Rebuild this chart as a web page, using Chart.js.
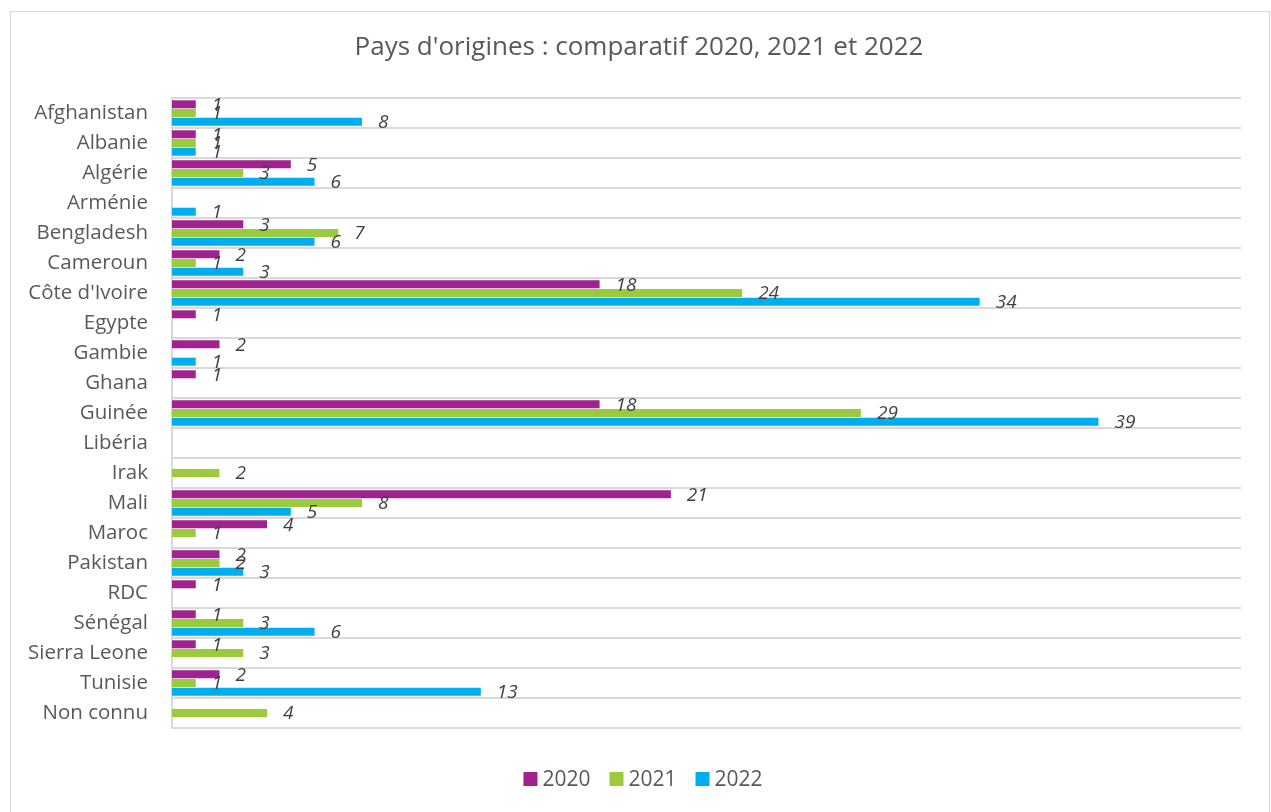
<!DOCTYPE html>
<html>
<head>
<meta charset="utf-8">
<script src="https://cdn.jsdelivr.net/npm/chart.js@4.4.0/dist/chart.umd.min.js"></script>
<style>
  html, body { margin: 0; padding: 0; background: #fff; }
  #wrap { width: 1271px; height: 812px; position: relative; }
</style>
</head>
<body>
<div id="wrap"><canvas id="chart"></canvas></div>
<script>
const countries = [
  'Afghanistan', 'Albanie', 'Algérie', 'Arménie', 'Bengladesh', 'Cameroun',
  "Côte d'Ivoire", 'Egypte', 'Gambie', 'Ghana', 'Guinée', 'Libéria', 'Irak',
  'Mali', 'Maroc', 'Pakistan', 'RDC', 'Sénégal', 'Sierra Leone', 'Tunisie', 'Non connu',
];
const years = ['2020', '2021', '2022'];
const values2020 = [1, 1, 5, null, 3, 2, 18, 1, 2, 1, 18, null, null, 21, 4, 2, 1, 1, 1, 2, null];
const values2021 = [1, 1, 3, null, 7, 1, 24, null, null, null, 29, null, 2, 8, 1, 2, null, 3, 3, 1, 4];
const values2022 = [8, 1, 6, 1, 6, 3, 34, null, 1, null, 39, null, null, 5, null, 3, null, 6, null, 13, null];
const chartTitle = "Pays d'origines : comparatif 2020, 2021 et 2022";

const COLORS = {
  y2020: '#A0228E',
  y2021: '#9BCB3C',
  y2022: '#00AEEF',
  grid: '#D9D9D9',
  text: '#595959',
  label: '#404040',
};
const FONT = "'Open Sans', sans-serif";

// value labels drawn just right of each bar end
const valueLabels = {
  id: 'valueLabels',
  afterDatasetsDraw(chart) {
    const ctx = chart.ctx;
    ctx.save();
    ctx.font = `italic 19px ${FONT}`;
    ctx.fillStyle = COLORS.label;
    ctx.textAlign = 'left';
    ctx.textBaseline = 'middle';
    chart.data.datasets.forEach((ds, i) => {
      chart.getDatasetMeta(i).data.forEach((bar, j) => {
        const v = ds.data[j];
        if (v == null) return;
        ctx.fillText(String(v), bar.x + 16, bar.y + 1);
      });
    });
    ctx.restore();
  },
};

// light frame around the whole chart + centered title
const frame = {
  id: 'frame',
  beforeDraw(chart) {
    const ctx = chart.ctx;
    ctx.save();
    ctx.strokeStyle = COLORS.grid;
    ctx.lineWidth = 1;
    ctx.strokeRect(10.5, 11.5, 1259, 820);
    ctx.font = `26px ${FONT}`;
    ctx.fillStyle = COLORS.text;
    ctx.textAlign = 'center';
    ctx.textBaseline = 'middle';
    ctx.fillText(chartTitle, 639, 48);
    ctx.restore();
  },
};

// legend at the bottom, Excel-like spacing
const bottomLegend = {
  id: 'bottomLegend',
  afterDraw(chart) {
    const ctx = chart.ctx;
    const box = 14, gap = 5, itemGap = 19, cy = 779;
    ctx.save();
    ctx.font = `21px ${FONT}`;
    ctx.textBaseline = 'middle';
    ctx.textAlign = 'left';
    const items = chart.data.datasets.map((ds) => ({
      text: ds.label, color: ds.backgroundColor, w: ctx.measureText(ds.label).width,
    }));
    const total = items.reduce((s, it) => s + box + gap + it.w, 0) + itemGap * (items.length - 1);
    let x = 643 - total / 2;
    for (const it of items) {
      ctx.fillStyle = it.color;
      ctx.fillRect(x, cy - box / 2, box, box);
      ctx.fillStyle = COLORS.text;
      ctx.fillText(it.text, x + box + gap, cy + 1);
      x += box + gap + it.w + itemGap;
    }
    ctx.restore();
  },
};

new Chart(document.getElementById('chart'), {
  type: 'bar',
  data: {
    labels: countries,
    datasets: [
      { label: years[0], data: values2020, backgroundColor: COLORS.y2020 },
      { label: years[1], data: values2021, backgroundColor: COLORS.y2021 },
      { label: years[2], data: values2022, backgroundColor: COLORS.y2022 },
    ],
  },
  options: {
    indexAxis: 'y',
    responsive: true,
    maintainAspectRatio: false,
    animation: false,
    categoryPercentage: 0.87,
    barPercentage: 0.92,
    layout: { padding: { left: 10, right: 30, top: 98, bottom: 20 } },
    plugins: {
      title: { display: false },
      legend: { display: false },
      tooltip: { enabled: false },
    },
    scales: {
      x: {
        min: 0,
        max: 45,
        grid: { display: false },
        border: { display: false },
        ticks: { display: false },
        afterFit: (s) => { s.height = 64; },
      },
      y: {
        grid: { color: COLORS.grid, lineWidth: 2, drawTicks: false, offset: true },
        border: { color: COLORS.grid, width: 2 },
        ticks: { color: COLORS.text, font: { family: FONT, size: 20.5 }, padding: 24 },
        afterFit: (s) => { s.width = 162; },
      },
    },
  },
  plugins: [valueLabels, frame, bottomLegend],
});
</script>
</body>
</html>
